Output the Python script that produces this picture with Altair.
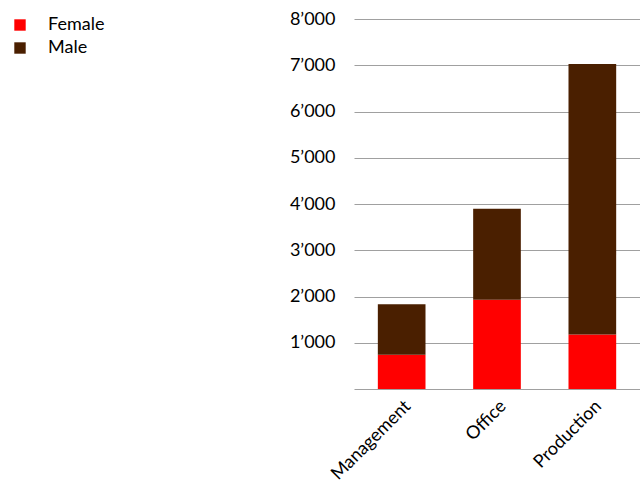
import altair as alt
import pandas as pd

categories = ["Management", "Office", "Production"]
female = [740, 1930, 1180]
male = [1095, 1970, 5845]
genders = ["Female", "Male"]
colors = ["#ff0000", "#4a1f00"]
tick_values = [0, 1000, 2000, 3000, 4000, 5000, 6000, 7000, 8000]

rows = []
for c, f, m in zip(categories, female, male):
    rows.append({"Category": c, "Gender": "Female", "Value": f, "ord": 0})
    rows.append({"Category": c, "Gender": "Male", "Value": m, "ord": 1})
df = pd.DataFrame(rows)

FONT = "Lato"
FS = 18

chart = alt.Chart(df).mark_bar().encode(
    x=alt.X("Category:N", sort=categories, title=None,
            scale=alt.Scale(paddingInner=0.5, paddingOuter=0.25),
            axis=alt.Axis(labelAngle=-45, ticks=False, domain=False, labelPadding=8,
                          labelFontSize=FS, labelFont=FONT, labelColor="#000000")),
    y=alt.Y("Value:Q", title=None, stack="zero",
            scale=alt.Scale(domain=[0, 8000], nice=False),
            axis=alt.Axis(values=tick_values,
                          labelExpr="datum.value == 0 ? '' : replace(format(datum.value, ','), ',', '’')",
                          ticks=False, domain=False, labelPadding=19,
                          labelFontSize=FS, labelFont=FONT, labelColor="#000000",
                          gridColor="#a0a0a0", gridWidth=1.2)),
    color=alt.Color("Gender:N", sort=genders,
                    scale=alt.Scale(domain=genders, range=colors),
                    legend=alt.Legend(title=None, orient="none", legendX=-343, legendY=-3,
                                      symbolType="square", symbolSize=130, symbolStrokeWidth=0,
                                      labelFontSize=FS, labelFont=FONT, labelColor="#000000",
                                      labelOffset=19, rowPadding=5, padding=0)),
    order=alt.Order("ord:Q"),
).properties(
    width=286, height=370,
    autosize=alt.AutoSizeParams(type="none"),
    padding={"left": 354, "top": 19, "right": 0, "bottom": 103},
).configure_view(stroke=None)

chart.save("out.html", embed_options={"renderer": "svg", "actions": False})
